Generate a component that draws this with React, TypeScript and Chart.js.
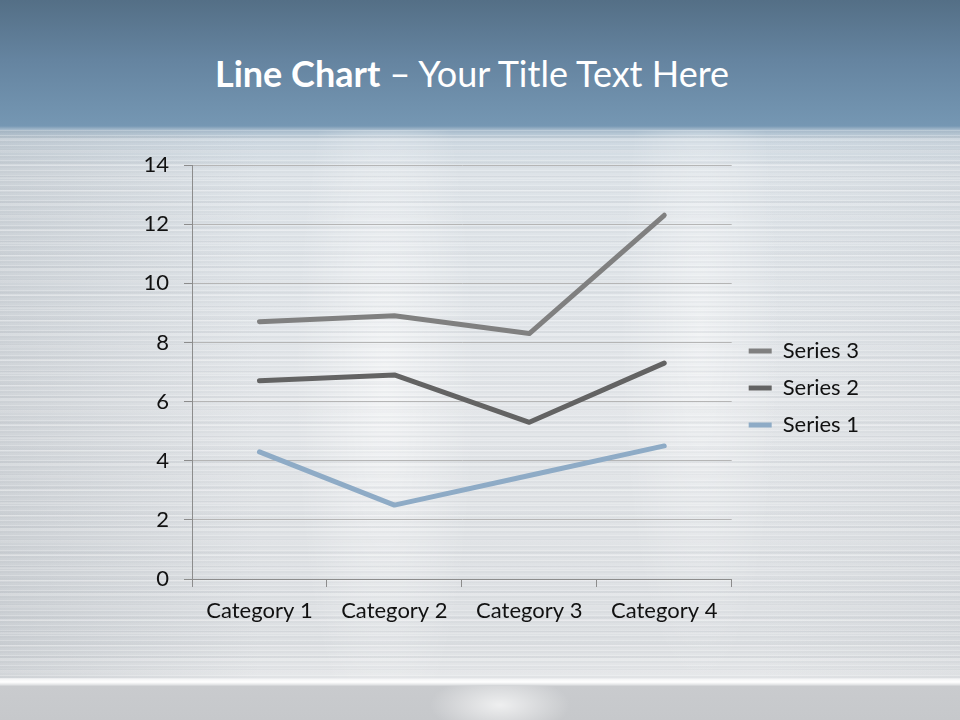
import React, { useEffect, useRef } from "react";
import { Chart, registerables } from "chart.js";

Chart.register(...registerables);

const categories = ["Category 1", "Category 2", "Category 3", "Category 4"];
const seriesNames = ["Series 1", "Series 2", "Series 3"];
const series1 = [4.3, 2.5, 3.5, 4.5];
const series2 = [2.4, 4.4, 1.8, 2.8];
const series3 = [2, 2, 3, 5];
const seriesColors = ["#8eabc6", "#636363", "#808080"];
const yMin = 0;
const yMax = 14;
const yStep = 2;

const FONT = "Lato, 'Open Sans', sans-serif";

export default function App() {
  const ref = useRef<HTMLCanvasElement | null>(null);

  useEffect(() => {
    if (!ref.current) return;
    const values = [series1, series2, series3];
    const chart = new Chart(ref.current, {
      type: "line",
      data: {
        labels: categories,
        datasets: seriesNames.map((name, i) => ({
          label: name,
          data: values[i],
          borderColor: seriesColors[i],
          backgroundColor: seriesColors[i],
          borderWidth: 5,
          borderCapStyle: "round",
          borderJoinStyle: "round",
          pointRadius: 0,
          pointHoverRadius: 0,
          tension: 0,
          fill: false,
        })),
      },
      options: {
        animation: false,
        responsive: false,
        events: [],
        layout: { padding: { top: 165, left: 0, right: 91, bottom: 0 } },
        plugins: {
          tooltip: { enabled: false },
          title: { display: false },
          legend: {
            position: "right",
            fullSize: false,
            reverse: true,
            align: "center",
            title: {
              display: true,
              text: "",
              font: { size: 1 },
              padding: { top: 31, bottom: 0 },
            },
            labels: {
              usePointStyle: true,
              pointStyle: "line",
              pointStyleWidth: 23,
              padding: 15,
              color: "#111111",
              font: { family: FONT, size: 22 },
            },
          },
        },
        scales: {
          x: {
            offset: true,
            grid: {
              display: true,
              drawOnChartArea: false,
              drawTicks: true,
              tickLength: 8,
              offset: true,
              color: "#8c8c8c",
            },
            border: { display: true, color: "#8c8c8c", width: 1 },
            ticks: {
              color: "#111111",
              font: { family: FONT, size: 22 },
              padding: 11,
              maxRotation: 0,
              autoSkip: false,
            },
            afterFit: (s: any) => {
              s.height = 141;
            },
          },
          y: {
            stacked: true,
            min: yMin,
            max: yMax,
            ticks: {
              stepSize: yStep,
              color: "#111111",
              font: { family: FONT, size: 22 },
              padding: 15,
            },
            grid: { color: "#b5b5b5", tickColor: "#8c8c8c", tickLength: 8 },
            border: { display: true, color: "#8c8c8c", width: 1 },
            afterFit: (s: any) => {
              s.width = 192;
            },
          },
          gap: {
            type: "linear",
            position: "right",
            display: true,
            grid: { display: false },
            ticks: { display: false },
            border: { display: false },
            afterFit: (s: any) => {
              s.width = 2;
            },
          },
        },
      } as any,
    });
    return () => chart.destroy();
  }, []);

  const layers = [
    // bottom strip highlight line
    {
      img: "linear-gradient(180deg, rgba(255,255,255,0) 0px, #f4f5f6 1px, #ffffff 4px, #dfe1e3 7px, rgba(255,255,255,0) 8px)",
      pos: "0px 678px",
      size: "960px 8px",
    },
    // fine streaks (silver area only)
    {
      img: "repeating-linear-gradient(180deg, rgba(255,255,255,0.22) 0px, rgba(255,255,255,0.22) 1px, rgba(160,166,174,0.07) 1px, rgba(160,166,174,0.07) 3px, rgba(255,255,255,0) 3px, rgba(255,255,255,0) 5px)",
      pos: "0px 130px",
      size: "960px 548px",
    },
    {
      img: "repeating-linear-gradient(180deg, rgba(150,156,164,0.0) 0px, rgba(150,156,164,0.0) 6px, rgba(150,156,164,0.08) 6px, rgba(150,156,164,0.08) 8px, rgba(255,255,255,0.18) 8px, rgba(255,255,255,0.18) 10px, rgba(255,255,255,0) 10px, rgba(255,255,255,0) 13px)",
      pos: "0px 130px",
      size: "960px 548px",
    },
    // vertical bright areas (silver area only)
    {
      img: "radial-gradient(ellipse 90px 380px at 385px 250px, rgba(255,255,255,0.55), rgba(255,255,255,0))",
      pos: "0px 130px",
      size: "960px 548px",
    },
    {
      img: "radial-gradient(ellipse 80px 360px at 700px 200px, rgba(255,255,255,0.45), rgba(255,255,255,0))",
      pos: "0px 130px",
      size: "960px 548px",
    },
    {
      img: "radial-gradient(ellipse 70px 30px at 500px 19px, rgba(255,255,255,0.7), rgba(255,255,255,0))",
      pos: "0px 686px",
      size: "960px 34px",
    },
    // horizontal shading (left darker)
    {
      img: "linear-gradient(90deg, rgba(150,158,166,0.25) 0px, rgba(150,158,166,0.0) 260px, rgba(150,158,166,0) 760px, rgba(150,158,166,0.10) 960px)",
      pos: "0px 130px",
      size: "960px 548px",
    },
    // vertical base
    {
      img: "linear-gradient(180deg, #546f86 0px, #6584a0 60px, #7597b3 126px, #a7bccd 130px, #cdd8e1 140px, #dde3e8 170px, #e4e7ea 400px, #dde0e3 640px, #e6e8ea 676px, #e6e8ea 678px, #c9cbce 686px, #c6c8cb 720px)",
      pos: "0 0",
      size: "960px 720px",
    },
  ];

  return (
    <div
      style={{
        position: "absolute",
        left: 0,
        top: 0,
        width: 960,
        height: 720,
        overflow: "hidden",
        backgroundImage: layers.map((l) => l.img).join(", "),
        backgroundPosition: layers.map((l) => l.pos).join(", "),
        backgroundSize: layers.map((l) => l.size).join(", "),
        backgroundRepeat: "no-repeat",
      }}
    >
      <div
        style={{
          position: "absolute",
          left: 0,
          top: 52,
          width: 944,
          textAlign: "center",
          color: "#ffffff",
          fontFamily: FONT,
          fontSize: 36,
          lineHeight: 1.2,
          whiteSpace: "nowrap",
        }}
      >
        <span style={{ fontWeight: 700 }}>Line Chart</span>
        <span style={{ fontWeight: 400 }}> – Your Title Text Here</span>
      </div>
      <canvas
        ref={ref}
        width={960}
        height={720}
        style={{ position: "absolute", left: 0, top: 0, width: 960, height: 720 }}
      />
    </div>
  );
}
